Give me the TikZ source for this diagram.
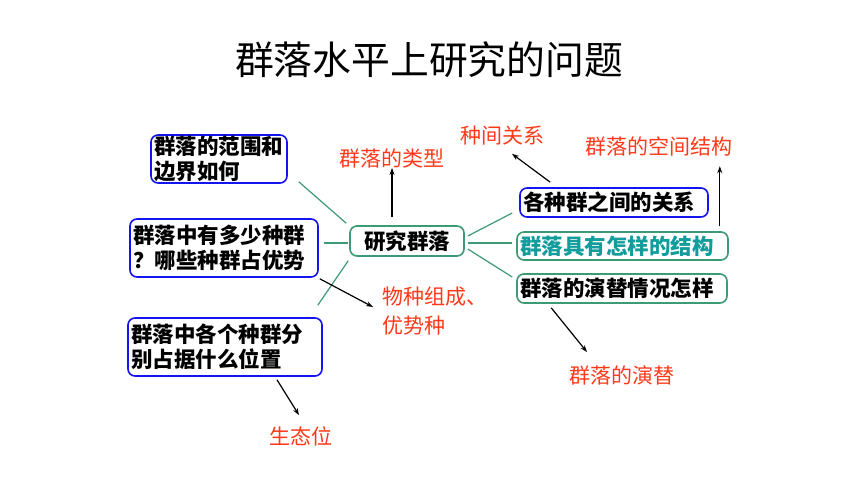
\documentclass[tikz,border=0pt]{standalone}
\usepackage{fontspec}
\setmainfont{Noto Sans CJK SC}
\usepackage{tikz}
\usetikzlibrary{arrows.meta,positioning,calc}
\definecolor{Ink}{HTML}{000000}
\definecolor{BoxBlue}{HTML}{1414F0}
\definecolor{BoxGreen}{HTML}{3C9A74}
\definecolor{TealText}{HTML}{129C9C}
\definecolor{RedText}{HTML}{FF3A1A}
\tikzset{
  qbox/.style={draw=BoxBlue,line width=1.6pt,rounded corners=7pt,align=left,inner xsep=3pt,inner ysep=0pt,
    font=\bfseries\fontsize{21.5}{25.5}\selectfont,text=Ink},
  gbox/.style={qbox,draw=BoxGreen},
  answer/.style={font=\fontsize{21}{29}\selectfont,text=RedText,align=left,inner sep=0pt},
  branch/.style={draw=BoxGreen,line width=1.2pt},
  pointer/.style={-{Stealth[length=7pt,width=5pt]},line width=1.2pt,draw=Ink}
}
\begin{document}
\begin{tikzpicture}[x=1pt,y=-1pt]
  \useasboundingbox[fill=white] (0,0) rectangle (860,484);
  \node[font=\fontsize{38.8}{40}\selectfont,text=Ink] (title) at (429,60) {群落水平上研究的问题};

  % central topic
  \node[gbox,align=center,minimum width=114pt,minimum height=30pt] (hub) at (407,241) {研究群落};

  % questions on the left
  \node[qbox,text width=130pt,minimum height=48pt] (range) at (219,159) {群落的范围和\\边界如何};
  \node[qbox,text width=182pt,minimum height=58pt] (species) at (224,248) {群落中有多少种群\\？哪些种群占优势};
  \node[qbox,text width=188pt,minimum height=58pt] (niche) at (225,347) {群落中各个种群分\\别占据什么位置};

  % questions on the right
  \node[qbox,text width=182pt,minimum height=29pt] (relation) at (614,202.5) {各种群之间的关系};
  \node[gbox,text width=205pt,minimum height=28pt,text=TealText] (structure) at (622.5,246) {群落具有怎样的结构};
  \node[gbox,text width=204pt,minimum height=29pt] (succession) at (622,288.5) {群落的演替情况怎样};

  % answers
  \node[answer] (typeA) at (392,158) {群落的类型};
  \node[answer] (relA) at (502,136) {种间关系};
  \node[answer] (spaceA) at (659,146) {群落的空间结构};
  \node[answer,anchor=north west] (compA) at (382,287) {物种组成、\\优势种};
  \node[answer] (succA) at (622,375) {群落的演替};
  \node[answer] (nicheA) at (301,436) {生态位};

  % green branches
  \draw[branch] ($(range.south east)+(11,-2)$) -- ($(hub.north west)+(-3,-2)$);
  \draw[branch] ($(species.east)+(5,-5)$) -- ($(hub.west)+(-1,2)$);
  \draw[branch] ($(niche.north east)+(-5,-12)$) -- ($(hub.south west)+(-1,4)$);
  \draw[branch] ($(hub.east)+(3,-5)$) -- ($(relation.west)+(-7,10.5)$);
  \draw[branch] ($(hub.east)+(3,2)$) -- ($(structure.west)+(-4,-3)$);
  \draw[branch] ($(hub.east)+(3,8)$) -- ($(succession.west)+(-4,-11.5)$);

  % arrows to answers
  \draw[pointer] (hub.north -| typeA) ++(0,-8) -- (typeA.south);
  \draw[pointer] ($(relation.north west)+(31,-5)$) -- ($(relA.south)+(10,8)$);
  \draw[pointer] ($(structure.north east)+(-9,-5)$) -- ++(0,-60);
  \draw[pointer] ($(species.south east)+(1,1)$) -- ($(compA.north west)+(-9,20)$);
  \draw[pointer] ($(succession.south west)+(35,4)$) -- ($(succA.north)+(-35,-13)$);
  \draw[pointer] ($(niche.south)+(52,3)$) -- ($(nicheA.north)+(-2,-11)$);
\end{tikzpicture}
\end{document}
